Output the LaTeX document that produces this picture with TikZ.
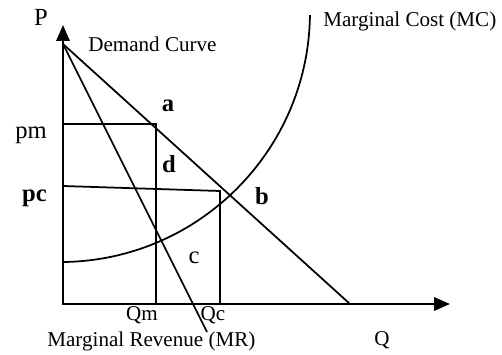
\documentclass[tikz,border=0pt]{standalone}
\usepackage{fontspec}
\setmainfont{Liberation Serif}
\usetikzlibrary{arrows.meta}

\begin{document}
\begin{tikzpicture}[x=0.02cm, y=0.02cm,
  axis/.style={line width=1.2pt, {Triangle[length=9pt, width=7.5pt]}-{Triangle[length=9pt, width=7.5pt]}},
  ln/.style={line width=1pt},
  lbl/.style={anchor=base, inner sep=0pt, font=\fontsize{12}{14}\selectfont},
  big/.style={anchor=base, inner sep=0pt, font=\fontsize{14}{16}\selectfont},
  bigb/.style={anchor=base, inner sep=0pt, font=\fontsize{14}{16}\selectfont\bfseries}]
  \useasboundingbox (-63,-50) rectangle (439,304);
  % points
  \coordinate (O)     at (0,0);
  \coordinate (ytip)  at (0,279);
  \coordinate (xtip)  at (387,0);
  \coordinate (top)   at (0,260);
  \coordinate (dend)  at (287,0);
  \coordinate (mrend) at (144,-28);
  \coordinate (pmax)  at (0,180);
  \coordinate (acor)  at (93,180);
  \coordinate (qmax)  at (93,0);
  \coordinate (pcax)  at (0,118);
  \coordinate (ccor)  at (157,113);
  \coordinate (qcax)  at (157,0);
  \coordinate (mc0)   at (0.9,42);
  % axes
  \draw[axis] (ytip) -- (O) -- (xtip);
  % demand and marginal revenue
  \draw[ln] (top) -- (dend);
  \draw[ln] (top) -- (mrend);
  % marginal cost
  \draw[ln] (mc0) arc[start angle=-89.1, end angle=-0.7, radius=250];
  % monopoly and competitive boxes
  \draw[ln] (pmax) -- (acor) -- (qmax);
  \draw[ln] (pcax) -- (ccor) -- (qcax);
  % labels
  \node[big] (lp)  at (-22,278) {P};
  \node[lbl, anchor=base west] (ldc) at (25,252) {Demand Curve};
  \node[lbl, anchor=base west] (lmc) at (260,277) {Marginal Cost (MC)};
  \node[big]  (lpm) at (-32,165) {pm};
  \node[bigb] (lpc) at (-28.5,102) {pc};
  \node[bigb] (la)  at (105,192) {a};
  \node[bigb] (ld)  at (106,131) {d};
  \node[bigb] (lb)  at (199,99) {b};
  \node[big]  (lc)  at (131,40) {c};
  \node[lbl] (lqm) at (79,-16) {Qm};
  \node[lbl] (lqc) at (150,-16) {Qc};
  \node[lbl, anchor=base west] (lmr) at (-16,-42) {Marginal Revenue (MR)};
  \node[lbl] (lq)  at (319,-41) {Q};
\end{tikzpicture}
\end{document}
